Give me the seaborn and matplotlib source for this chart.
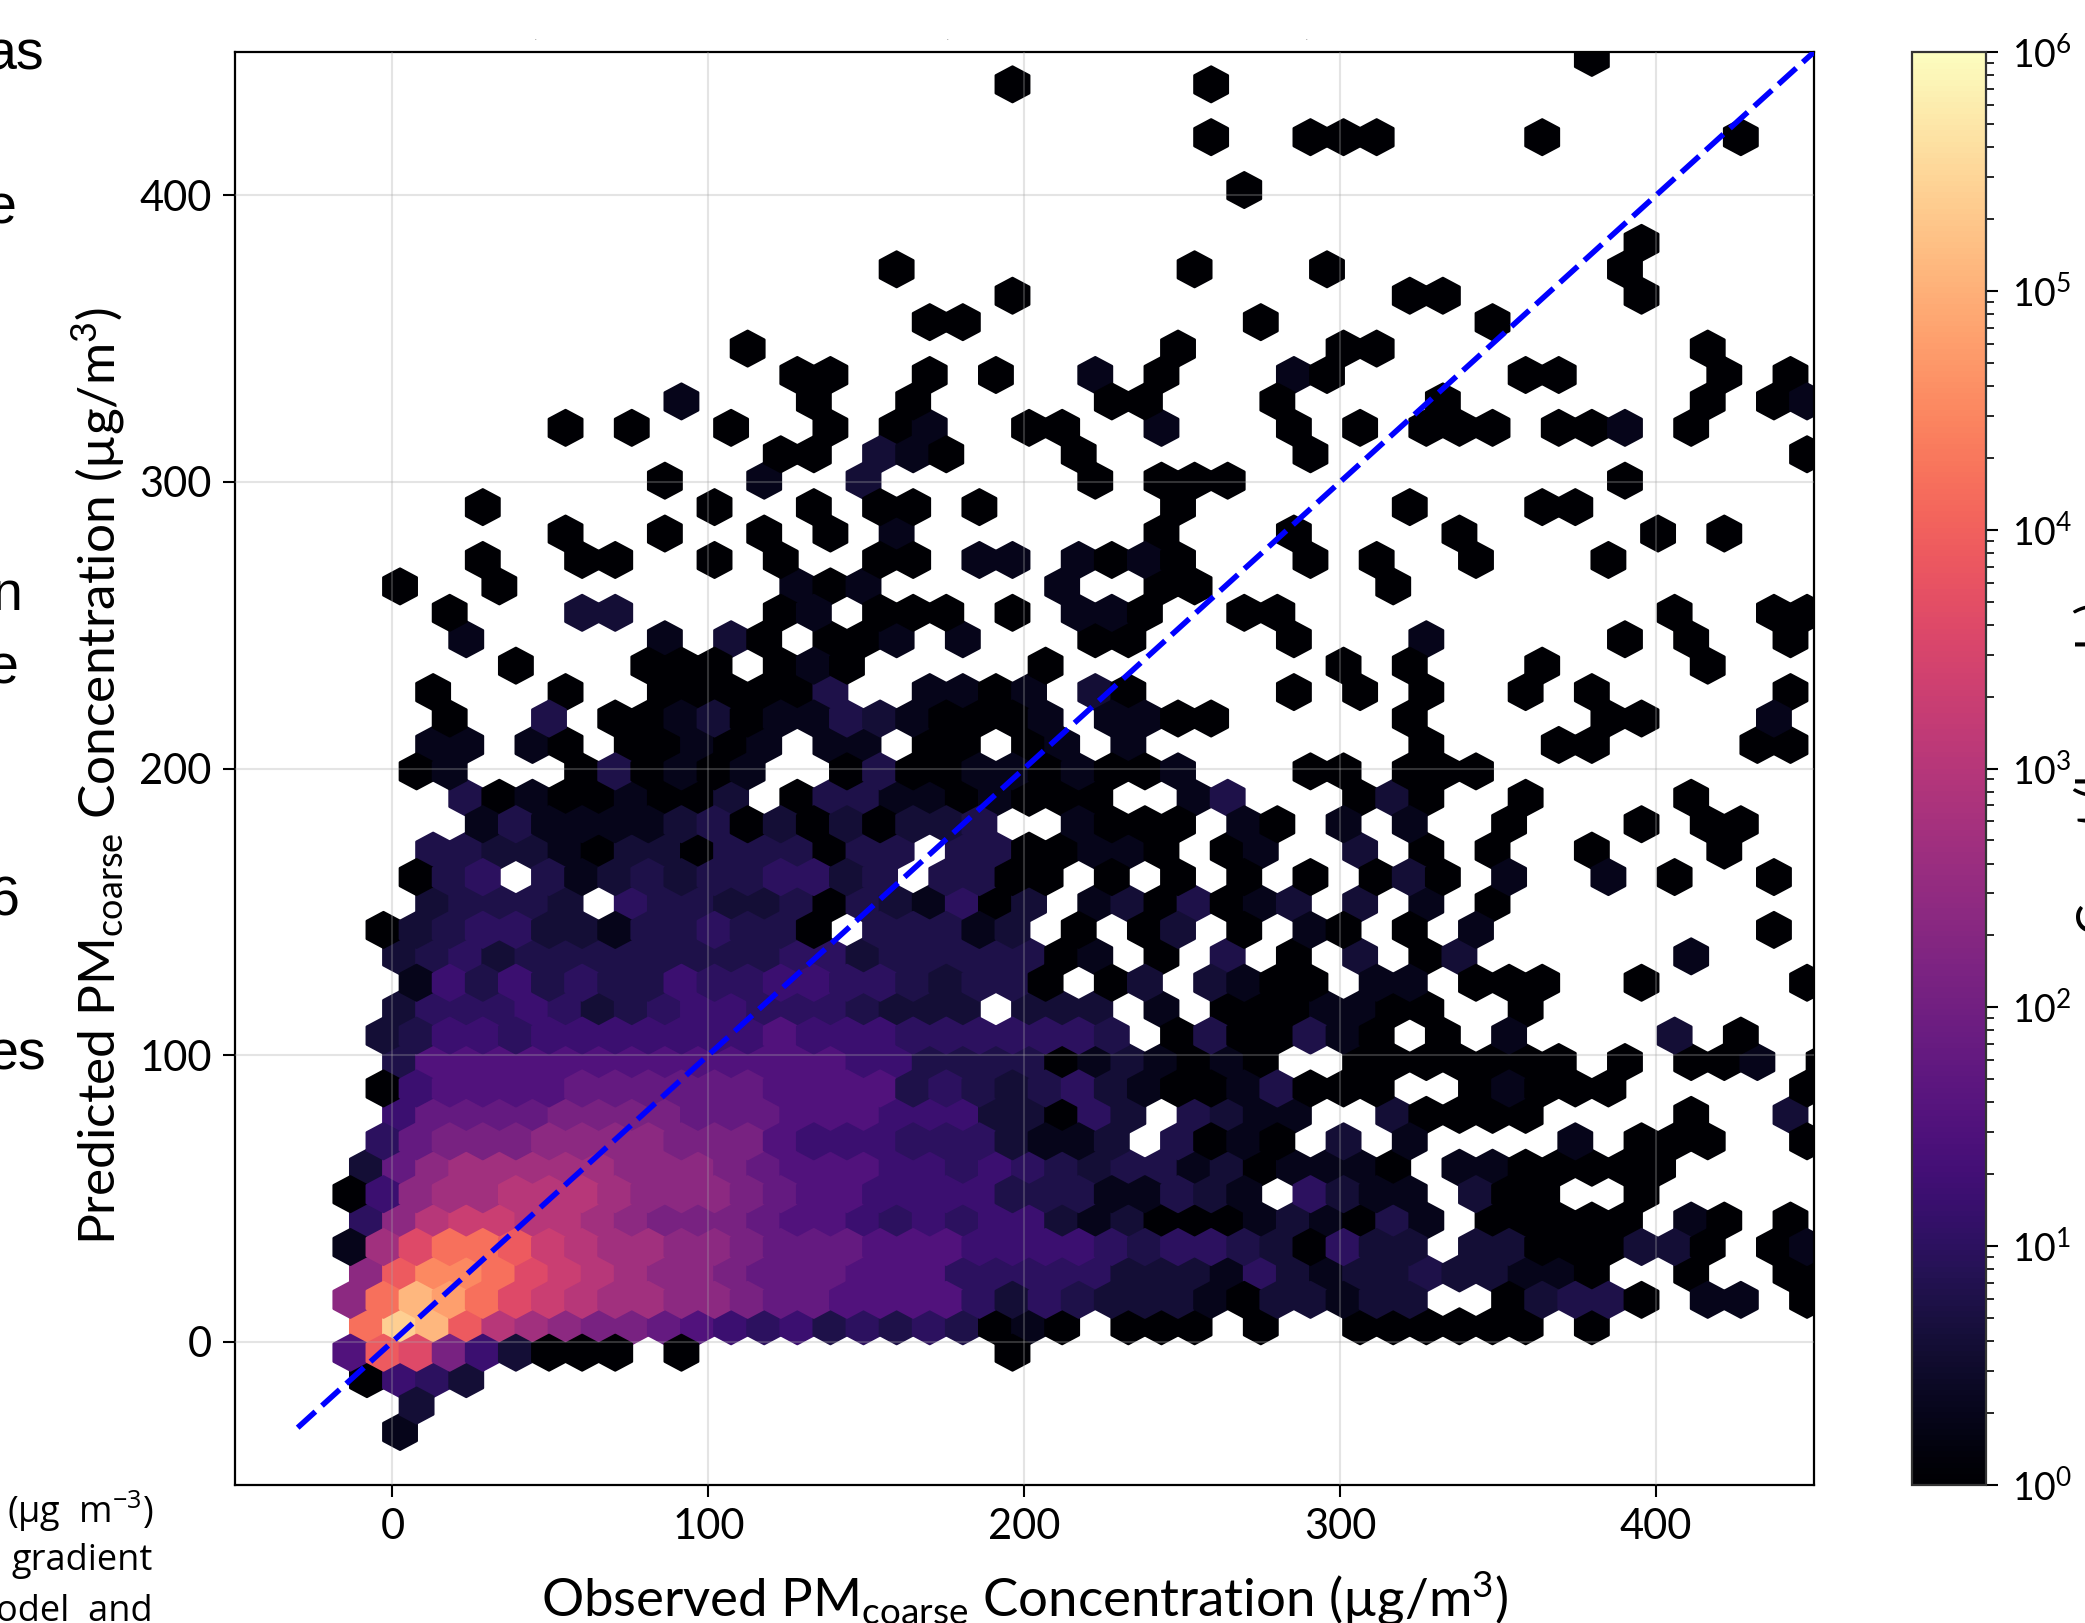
import numpy as np
import pandas as pd
import matplotlib.pyplot as plt
from matplotlib.colors import LogNorm
from matplotlib.ticker import LogLocator
import seaborn as sns

# hexagon lattice (ug/m3)
hex_dx = 10.48
hex_dy = 9.22
first_x = 2.4
first_y = -31.5

# count for each shade letter
level_codes = '0123456789abcdefghij'
level_counts = [1, 2, 4, 6, 10, 16, 32, 63, 126, 250, 500, 1000, 2000, 4000,
                8000, 16000, 32000, 63000, 126000, 250000]

# one string per hexagon row, bottom to top: "column:shades" runs
row_levels = [
    "0:1",
    "0:2",
    "-1:0542",
    "-2:6ed852000 8:0 18:0",
    "-1:fjieba9887654534343010 22:000 26:0 29:000000 36:0",
    "-2:9fihfdcbaa99877666642432221022122 33:02330 39:11 42:0",
    "-1:9eggfdcba99877766644444222142122322110 39:0 42:00",
    "-2:1adffecbaa99877766655554344320422 32:22000220 41:01",
    "-1:49bccbba9888766545455212000121031 33:00000 39:10 42:0",
    "-2:059aabbba9998766555533311321 27:4211 32:200 37:0",
    "-1:279aaaaa999876665545432331201110 32:1100000",
    "-1:47888999988865554442112 23:3010 28:2 30:1 35:1 37:000 42:0",
    "0:57777888877766655522042 24:3211 30:20000 39:0 42:2",
    "-1:0566667777776666343234210013000 32:01000 42:0",
    "0:366666666666665533330121010 29:0000000 37:0 39:001 43:0",
    "-1:23554555555565554444443 23:0300310 31:0 33:1 38:2 40:0",
    "0:244454234554443222 19:222 23:1 25:0001100 34:0",
    "0:15353433544554432330 21:02 24:2100 29:11 32:000 37:0 42:0",
    "0:2342333333334423333301 23:0 25:3 27:0 29:2 31:02 39:1",
    "-1:02344221334330 14:33312 20:0 22:02 25:0 27:10 30:0 32:1 41:0",
    "1:23332 7:433223 13:0321402 21:1203012 29:2 31:1 33:0",
    "0:034 4:3123233 11:4423 16:3300 21:0 23:0 25:0 27:0 29:020 33:1 36:1 38:0 41:0",
    "1:33 3:22 5:10 7:22 9:0 10:3330 14:33 17:3300 21:110 25:01 29:2 31:0 33:0 36:0 40:0",
    "2:13 4:1111 8:230 11:2020 15:223 20:1000 25:10 28:1 30:1 33:0 37:0 39:00",
    "2:3 3:0 4:1 5:00 7:1 8:00 10:2 12:0 13:33 15:11 17:0 18:1 19:000 24:13 29:0 30:2 31:0 34:0 39:0",
    "0:01 5:03 7:01 9:01 13:0 14:3 15:00 17:11 19:01 21:00 23:1 27:00 30:000",
    "1:11 4:10 7:00 9:1 10:0 11:1 13:11 16:00 19:01 22:1 31:0 35:00 41:00",
    "1:0 4:3 6:00 8:12 10:0 11:113 14:21 16:000 19:1 21:11 23:00 30:0 36:00 41:1",
    "1:0 5:0 8:00000 13:3 16:1101 21:20 27:0 29:0 31:0 34:0 36:0 42:0",
    "3:0 7:000 11:010 19:0 28:0 30:0 34:0 39:0",
    "2:1 8:1 10:2 11:0 13:001 17:1 21:00 27:0 31:1 37:0 39:0 42:0",
    "1:0 5:22 11:01 14:000 18:0 20:110 25:00 38:0 41:00",
    "0:0 3:0 12:101 20:1 23:00 30:0",
    "2:0 5:00 9:0 11:0 14:00 17:11 20:1010 27:0 29:0 32:0 36:0",
    "5:0 8:0 11:0 13:0 15:1 23:0 27:0 32:0 38:0 40:0",
    "2:0 9:0 12:0 14:00 17:0 23:0 30:0 34:00",
    "8:0 11:1 14:2 21:0 23:000 37:0",
    "11:00 14:210 20:0 27:0 42:0",
    "5:0 7:0 10:0 13:0 15:01 19:00 23:1 27:0 29:0 31:000 35:001 39:0",
    "8:1 12:0 15:0 21:00 26:0 31:0 39:0 41:01",
    "12:00 16:0 18:0 21:1 23:0 27:10 34:00 40:0 42:0",
    "10:0 23:0 28:00 39:0",
    "16:00 26:0 33:0",
    "18:0 30:00 37:0",
    "15:0 24:0 28:0 37:0",
    "37:0",
    "",
    "25:0",
    "",
    "24:0 27:000 34:0 40:0",
    "",
    "18:0 24:0",
    "36:0",
]

ref_line = [-30, 450]
x_ticks = [0, 100, 200, 300, 400]
y_ticks = [0, 100, 200, 300, 400]

x_label = 'Observed PM$_{coarse}$ Concentration (µg/m$^3$)'
y_label = 'Predicted PM$_{coarse}$ Concentration (µg/m$^3$)'
cbar_label = 'Count (log scale)'

# bits of the page text that the crop leaves around the chart
left_bits = ['as', 'e', 'n', 'e', '6', 'es']
left_bits_right = [44, 16, 22, 19, 19, 46]
left_bits_y = [55, 210, 596, 669, 902, 1055]
caption_bits = ['(µg  m$^{-3}$)', 'gradient', 'odel  and']
caption_y = [1511, 1561, 1612]
top_specks_x = [535, 947, 1306]

# expand rows into a table of hexagon centres
records = []
for r, text in enumerate(row_levels):
    for run in text.split():
        start, shades = run.split(':')
        for k, s in enumerate(shades):
            col = int(start) + k
            records.append({
                'observed': first_x + hex_dx * (col + (r % 2) / 2),
                'predicted': first_y + hex_dy * r,
                'count': level_counts[level_codes.index(s)],
            })
df = pd.DataFrame(records)

sns.set_style('white')
plt.rcParams['font.family'] = ['Lato', 'DejaVu Sans']
plt.rcParams['mathtext.default'] = 'regular'
plt.rcParams['text.color'] = 'black'
plt.rcParams['axes.labelcolor'] = 'black'
plt.rcParams['xtick.color'] = 'black'
plt.rcParams['ytick.color'] = 'black'

W, H = 2085, 1623
fig = plt.figure(figsize=(W / 100, H / 100), dpi=100)
ax = fig.add_axes([234.5 / W, 1 - 1485 / H, 1579.5 / W, 1433 / H])
cax = fig.add_axes([1912 / W, 1 - 1485 / H, 74 / W, 1433 / H])

xmin = first_x - 6 * hex_dx
ymin = first_y - 2 * hex_dy
nx, ny = 51, 28
hb = ax.hexbin(df['observed'], df['predicted'], C=df['count'],
               reduce_C_function=np.sum,
               gridsize=(nx, ny),
               extent=(xmin, xmin + nx * hex_dx, ymin, ymin + ny * 2 * hex_dy),
               cmap=sns.color_palette('magma', as_cmap=True),
               norm=LogNorm(vmin=1, vmax=1e6),
               edgecolors='face', linewidths=2)

sns.lineplot(x=ref_line, y=ref_line, color='#0000ff', linewidth=4,
             linestyle=(0, (4.3, 1.6)), ax=ax, zorder=5)

ax.set_xlim(-50, 450)
ax.set_ylim(-50, 450)
ax.set_xticks(x_ticks)
ax.set_yticks(y_ticks)
ax.set_axisbelow(False)
ax.grid(True, alpha=0.3, linewidth=1.5, color='#a8a8a8')
ax.tick_params(length=8.4, width=1.5, labelsize=30, pad=8, bottom=True, left=True)
ax.set_xlabel(x_label, fontsize=38, labelpad=17)
ax.set_ylabel(y_label, fontsize=37, labelpad=8, y=0.495)
for spine in ax.spines.values():
    spine.set_linewidth(1.6)
    spine.set_color('black')

cb = fig.colorbar(hb, cax=cax)
cb.ax.yaxis.set_major_locator(LogLocator(base=10, numticks=10))
cb.ax.tick_params(which='major', length=8.4, width=1.5, labelsize=27, pad=10, right=True)
cb.ax.tick_params(which='minor', length=5.5, width=1.2, right=True)
cb.outline.set_linewidth(1.6)
cb.outline.set_edgecolor('#333333')
fig.text(2074 / W, 1 - 768 / H, cbar_label, rotation=90, ha='left', va='center', fontsize=33)

for t, xr, yp in zip(left_bits, left_bits_right, left_bits_y):
    fig.text(xr / W, 1 - yp / H, t, ha='right', va='center', fontsize=40,
             family='Liberation Sans')
for t, yp in zip(caption_bits, caption_y):
    fig.text(153 / W, 1 - yp / H, t, ha='right', va='center', fontsize=26,
             family='Open Sans')
for xp in top_specks_x:
    fig.text(xp / W, 1 - 38 / H, '.', ha='center', va='center', fontsize=5, color='#777777')

plt.savefig('out.png', dpi=100)
plt.close()
